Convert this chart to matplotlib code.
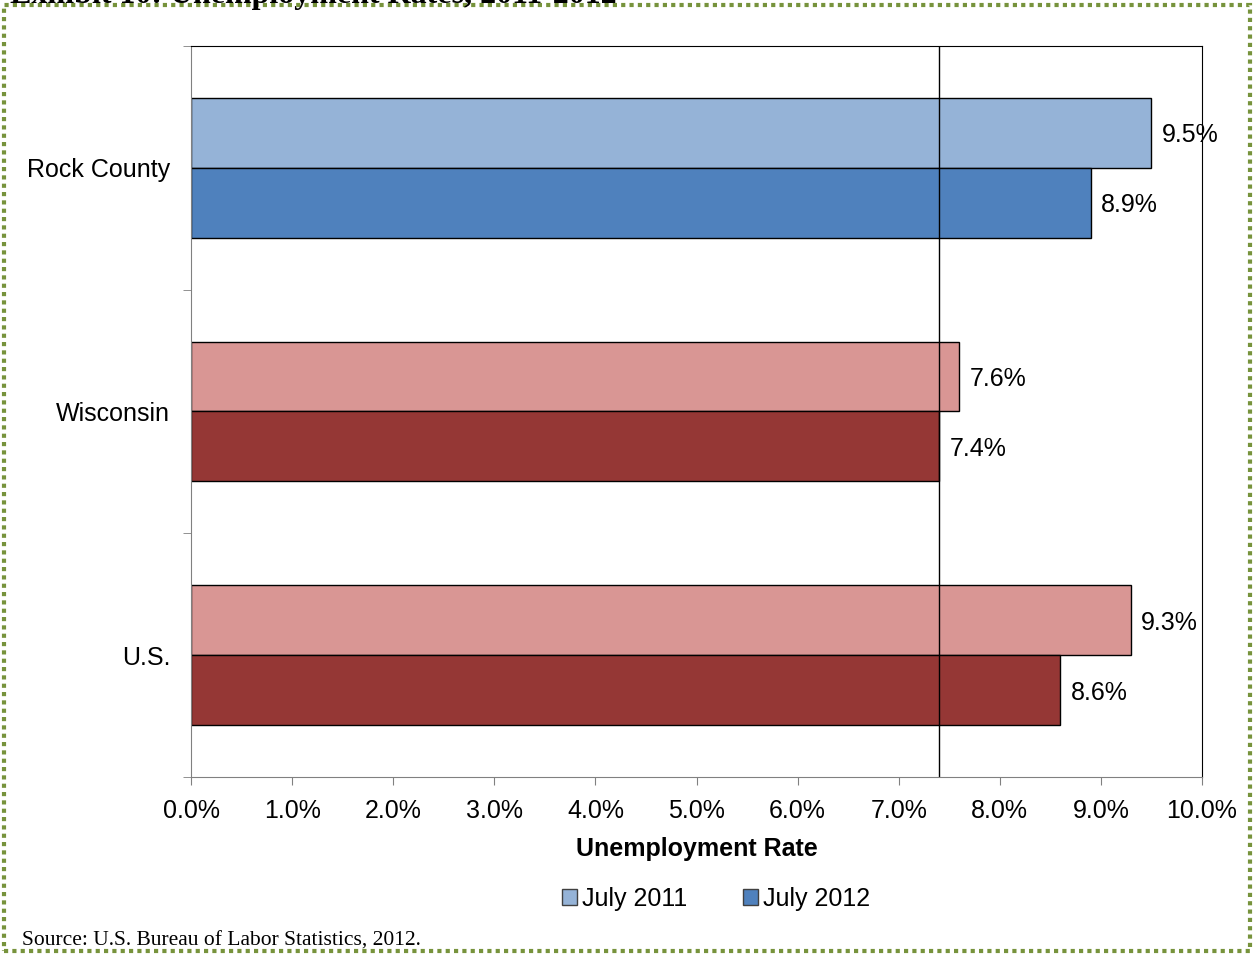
import numpy as np
import matplotlib.pyplot as plt
from matplotlib.patches import Rectangle, Patch

# Unemployment rates (%)
regions = ['Rock County', 'Wisconsin', 'U.S.']
july_2011 = [9.5, 7.6, 9.3]
july_2012 = [8.9, 7.4, 8.6]
ref_line = 7.4

colors_2011 = ['#95B3D7', '#D99694', '#D99694']
colors_2012 = ['#4F81BD', '#953735', '#953735']

plt.rcParams['font.family'] = ['Liberation Sans', 'DejaVu Sans']
fs = 18

fig = plt.figure(figsize=(12.56, 9.55), dpi=100)
ax = fig.add_axes([191 / 1256, 1 - 777 / 955, (1202 - 191) / 1256, (777 - 46) / 955])

y = np.arange(len(regions))
h = 0.287
ax.barh(y - h / 2, july_2011, height=h, color=colors_2011, edgecolor='black', linewidth=1)
ax.barh(y + h / 2, july_2012, height=h, color=colors_2012, edgecolor='black', linewidth=1)

for yi, v in zip(y, july_2011):
    ax.text(v + 0.1, yi - h / 2 + 0.01, f'{v:.1f}%', va='center', ha='left', fontsize=fs)
for yi, v in zip(y, july_2012):
    ax.text(v + 0.1, yi + h / 2 + 0.01, f'{v:.1f}%', va='center', ha='left', fontsize=fs)

ax.axvline(ref_line, color='black', linewidth=1)

ax.set_xlim(0, 10)
ax.set_ylim(2.5, -0.5)
ax.set_xticks(np.arange(0, 11, 1))
ax.set_xticklabels([f'{t:.1f}%' for t in range(11)], fontsize=fs)
ax.set_yticks(y)
ax.set_yticklabels(regions, fontsize=fs)
ax.set_yticks([-0.5, 0.5, 1.5, 2.5], minor=True)
ax.tick_params(axis='y', which='major', length=0, pad=15)
ax.tick_params(axis='y', which='minor', length=6, color='#808080')
ax.tick_params(axis='x', length=6, color='#808080', pad=10)
ax.spines['left'].set_color('#808080')
ax.spines['bottom'].set_color('#808080')
ax.spines['top'].set_color('black')
ax.spines['right'].set_color('black')
ax.set_xlabel('Unemployment Rate', fontsize=fs, fontweight='bold', labelpad=10)

handles = [Patch(facecolor='#95B3D7', edgecolor='#404040', label='July 2011'),
           Patch(facecolor='#4F81BD', edgecolor='#404040', label='July 2012')]
fig.legend(handles=handles, loc='center', bbox_to_anchor=(716 / 1256, 1 - 899 / 955),
           ncol=2, frameon=False, fontsize=fs, handlelength=0.6, handleheight=0.6,
           handletextpad=0.2, columnspacing=2.2)

# dotted green border
fig.patches.append(Rectangle((4 / 1256, 1 - 951 / 955), 1246 / 1256, 946 / 955,
                             transform=fig.transFigure, fill=False, edgecolor='#77933C',
                             linewidth=3, linestyle=(0, (1, 1))))

fig.text(22 / 1256, 1 - 946 / 955, 'Source: U.S. Bureau of Labor Statistics, 2012.',
         family='Liberation Serif', fontsize=15.5, va='baseline')
fig.text(10 / 1256, 1 - 3 / 955, 'Exhibit 10: Unemployment Rates, 2011-2012',
         family='Liberation Serif', fontweight='bold', fontsize=23, va='baseline')

fig.savefig('out.png', dpi=100)
